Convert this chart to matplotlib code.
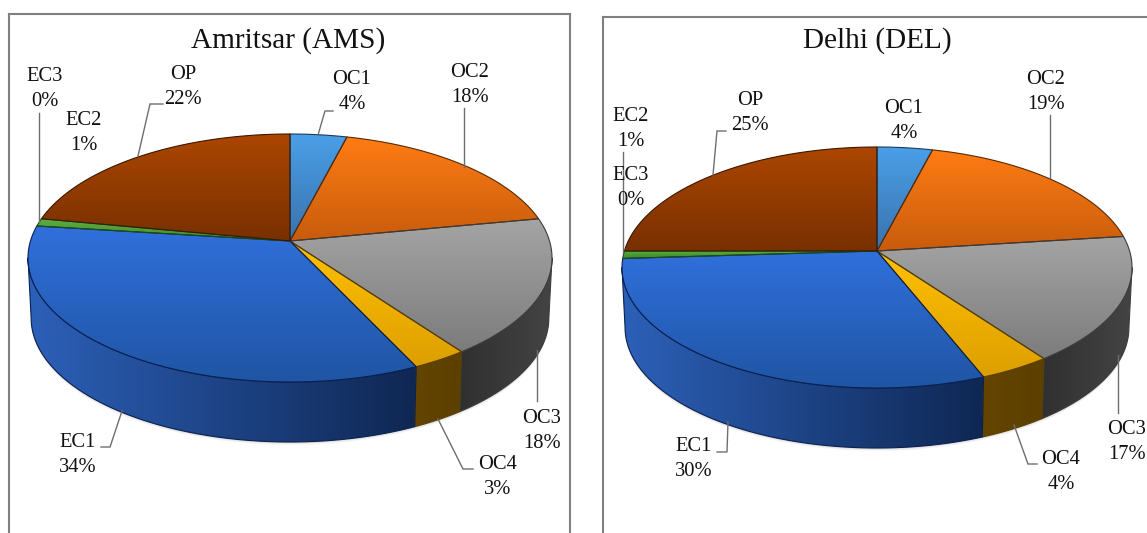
# coding: utf-8
import numpy as np
import matplotlib
matplotlib.use('Agg')
import matplotlib.pyplot as plt
from matplotlib.colors import to_rgb
from matplotlib.patches import Polygon

plt.rcParams['font.family'] = ['Liberation Serif', 'DejaVu Serif']

categories = ['OC1', 'OC2', 'OC3', 'OC4', 'EC1', 'EC2', 'EC3', 'OP']
ams_values = [4, 18, 18, 3, 34, 1, 0, 22]
del_values = [4, 19, 17, 4, 30, 1, 0, 25]

# gradient ends: top face (back, front) and side wall (left, right)
top_colors = [('#4a9fe8', '#3a72ac'), ('#ff7c14', '#c85c0c'), ('#a4a4a4', '#7c7c7c'),
              ('#ffc000', '#dd9f00'), ('#3070dc', '#2055a4'), ('#5fb040', '#3e8a2c'),
              ('#5fb040', '#3e8a2c'), ('#ac4600', '#783000')]
side_colors = [('#26517a', '#26517a'), ('#7a3a06', '#7a3a06'), ('#303030', '#444444'),
               ('#644400', '#5c4000'), ('#2c60b8', '#0f2753'), ('#2c5a20', '#2c5a20'),
               ('#2c5a20', '#2c5a20'), ('#582200', '#582200')]
edge_colors = ['#1c3a5c', '#5a2a04', '#3c3c3c', '#5a4000', '#0a2050', '#1e4a18', '#1e4a18', '#3c1800']

ams_labels = [(352, 92), (470, 85), (542, 431), (498, 477), (78, 455), (84, 133), (45, 89), (183, 87)]
del_labels = [(904, 121), (1046, 92), (1127, 442), (1061, 472), (694, 459), (631, 129), (631, 188), (750, 113)]

ams_leaders = [[(333, 111), (325, 111), (318, 135)], [(464, 108), (464, 167)],
               [(537.5, 401), (537.5, 350)], [(473, 469), (463, 469), (438, 419)],
               [(101, 447), (110, 447), (122, 411)], [(39, 113), (39, 222)],
               [(163, 104), (150, 104), (138, 156)]]
del_leaders = [[(1050, 115), (1050, 178)], [(1118, 413), (1118, 355)],
               [(1037, 464), (1028, 464), (1014, 425)], [(717, 452), (727, 452), (728, 422)],
               [(623, 152), (623, 252)], [(726, 131), (717, 131), (713, 175)]]

W, H = 1147, 533
DEPTH = 60
SIDE_SCALE = 0.988


def rim_points(center, rx, up, down, start, stop):
    """
    Project part of the pie's rim to pixels. Fractions run clockwise from the top.

    :param center: (x, y) of the apex.
    :param rx: half width of the rim.
    :param up: rim distance above the apex.
    :param down: rim distance below the apex.
    :return: 2D np.array of points.
    """
    k = (down - up) / (down + up)
    b = up * (1 + k)
    a = rx * np.sqrt(1 - k * k)
    n = max(int((stop - start) * 400), 2)
    t = np.linspace(start, stop, n) * 2 * np.pi
    u, v = np.sin(t), np.cos(t)
    w = 1 + k * v
    return np.column_stack((center[0] + a * u / w, center[1] - b * v / w))


def gradient_fill(ax, pts, c0, c1, horizontal, zorder, edge):
    """
    Fill a polygon with a linear gradient, clipped by the polygon.
    """
    c0, c1 = np.array(to_rgb(c0)), np.array(to_rgb(c1))
    s = np.linspace(0, 1, 128)
    ramp = c0 + (c1 - c0) * s[:, None]
    img = ramp[None, :, :] if horizontal else ramp[:, None, :]
    x0, x1 = pts[:, 0].min(), pts[:, 0].max()
    y0, y1 = pts[:, 1].min(), pts[:, 1].max()
    im = ax.imshow(img, extent=(x0, x1, y1, y0), aspect='auto', zorder=zorder, interpolation='bilinear')
    patch = Polygon(pts, closed=True, fc='none', ec=edge, lw=0.8, zorder=zorder + 0.1, joinstyle='round')
    ax.add_patch(patch)
    im.set_clip_path(patch)


def draw_pie(ax, values, center, rx, up, down):
    """
    Draw a tilted pie with side walls and a soft shadow under the wall.
    """
    fracs = np.cumsum([0] + list(values)) / float(sum(values))
    # the wall is seen only between the two points where the rim turns back
    k = (down - up) / (down + up)
    front0 = np.arccos(-k) / (2 * np.pi)
    front1 = 1 - front0
    # shadow
    ring = rim_points(center, rx * SIDE_SCALE, up, down, 0, 1)
    for grow, alpha in [(3.0, 0.05), (2.0, 0.08), (1.0, 0.12)]:
        ax.add_patch(Polygon(ring + [0, DEPTH + grow], closed=True, fc='#555555', ec='none', alpha=alpha, zorder=1))
    for i in range(len(values)):
        start, stop = max(fracs[i], front0), min(fracs[i + 1], front1)
        if stop <= start:
            continue
        top = rim_points(center, rx, up, down, start, stop)
        low = rim_points(center, rx * SIDE_SCALE, up, down, start, stop) + [0, DEPTH]
        wall = np.vstack((top, low[::-1]))
        gradient_fill(ax, wall, side_colors[i][0], side_colors[i][1], True, 2 + i * 0.01, edge_colors[i])
    for i in range(len(values)):
        if values[i] == 0:
            continue
        top = rim_points(center, rx, up, down, fracs[i], fracs[i + 1])
        face = np.vstack(([center], top))
        gradient_fill(ax, face, top_colors[i][0], top_colors[i][1], False, 3 + i * 0.01, edge_colors[i])


def draw_panel(ax, title, title_x, values, label_pos, leaders, center, rx, up, down):
    """
    Draw one panel: frame limits in pixels, pie, leaders, labels.
    """
    draw_pie(ax, values, center, rx, up, down)
    for line in leaders:
        xs, ys = zip(*line)
        ax.plot(xs, ys, color='#6e6e6e', lw=1.0, zorder=5, solid_joinstyle='miter')
    for name, v, (x, y) in zip(categories, values, label_pos):
        ax.text(x, y, '%s\n%d%%' % (name, v), ha='center', va='center', fontsize=14.8,
                linespacing=1.42, color='#111111', zorder=6)
    ax.text(title_x, 41, title, ha='center', va='center', fontsize=21.1, color='#111111', zorder=6)


def make_axes(fig, left, right, top, bottom):
    ax = fig.add_axes([left / W, 1 - bottom / H, (right - left) / W, (bottom - top) / H])
    ax.set_xticks([])
    ax.set_yticks([])
    for s in ax.spines.values():
        s.set_color('#808080')
        s.set_linewidth(1.5)
    ax.spines['bottom'].set_visible(False)
    return ax


fig = plt.figure(figsize=(W / 100, H / 100), dpi=100, facecolor='white')

ax1 = make_axes(fig, 9, 570, 13.5, 533)
draw_panel(ax1, 'Amritsar (AMS)', 288, ams_values, ams_labels, ams_leaders, (290, 241), 262, 107, 141)
ax1.set_xlim(9, 570)
ax1.set_ylim(533, 13.5)

ax2 = make_axes(fig, 603, 1160, 16.5, 533)
draw_panel(ax2, 'Delhi (DEL)', 877, del_values, del_labels, del_leaders, (877, 251), 255, 104, 137)
ax2.set_xlim(603, 1160)
ax2.set_ylim(533, 16.5)

fig.savefig('out.png', dpi=100)
